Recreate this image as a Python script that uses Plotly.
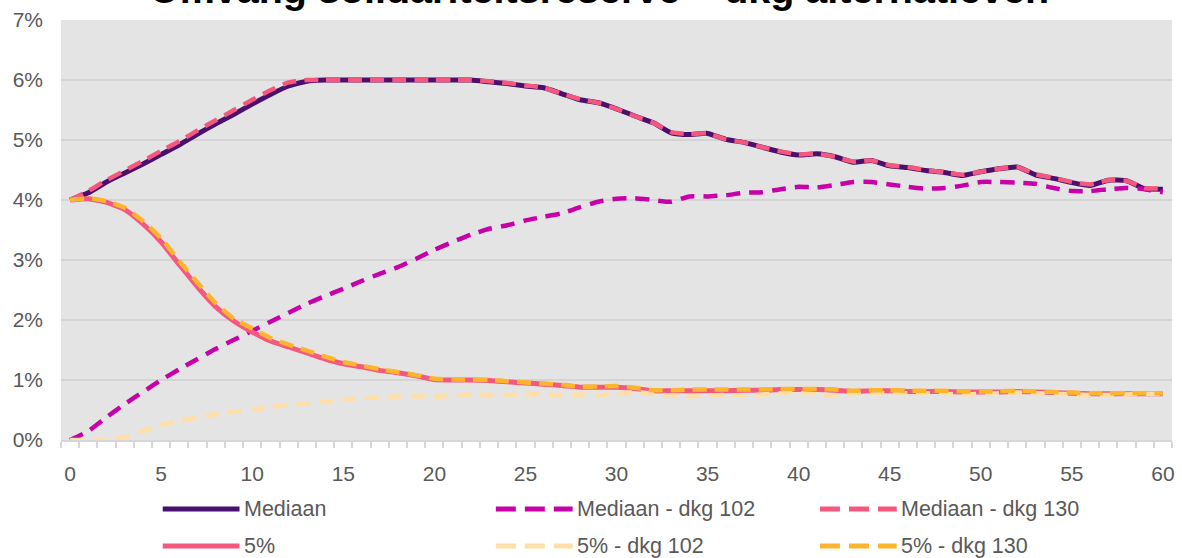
import plotly.graph_objects as go

# Jaren vanaf start (0 t/m 60)
jaren = list(range(61))
x_ticklabels = ["0", "5", "10", "15", "20", "25", "30", "35", "40", "45", "50", "55", "60"]
y_ticklabels = ["0%", "1%", "2%", "3%", "4%", "5%", "6%", "7%"]

# Omvang solidariteitsreserve (% van de pensioenvermogens)
mediaan = [
    4.00, 4.12, 4.30, 4.45, 4.60, 4.76, 4.92, 5.10, 5.27, 5.43,
    5.60, 5.76, 5.90, 5.98, 6.00, 6.00, 6.00, 6.00, 6.00, 6.00,
    6.00, 6.00, 6.00, 5.97, 5.94, 5.90, 5.87, 5.77, 5.67, 5.62,
    5.52, 5.40, 5.29, 5.12, 5.09, 5.11, 5.01, 4.96, 4.88, 4.80,
    4.75, 4.77, 4.72, 4.63, 4.66, 4.57, 4.54, 4.49, 4.46, 4.41,
    4.47, 4.52, 4.55, 4.42, 4.36, 4.29, 4.24, 4.33, 4.32, 4.19,
    4.18,
]
mediaan_dkg102 = [
    0.00, 0.15, 0.38, 0.60, 0.80, 1.00, 1.18, 1.35, 1.52, 1.67,
    1.82, 1.97, 2.12, 2.27, 2.40, 2.52, 2.65, 2.77, 2.88, 3.02,
    3.17, 3.30, 3.42, 3.52, 3.58, 3.66, 3.72, 3.78, 3.88, 3.97,
    4.02, 4.03, 4.00, 3.97, 4.06, 4.06, 4.08, 4.12, 4.13, 4.18,
    4.22, 4.21, 4.25, 4.30, 4.30, 4.26, 4.22, 4.19, 4.20, 4.24,
    4.30, 4.30, 4.29, 4.27, 4.20, 4.15, 4.15, 4.18, 4.20, 4.18,
    4.13,
]
mediaan_dkg130 = [
    4.00, 4.15, 4.33, 4.49, 4.65, 4.82, 4.98, 5.16, 5.33, 5.50,
    5.67, 5.83, 5.96, 6.00, 6.00, 6.00, 6.00, 6.00, 6.00, 6.00,
    6.00, 6.00, 6.00, 5.98, 5.95, 5.91, 5.87, 5.77, 5.68, 5.62,
    5.52, 5.40, 5.29, 5.13, 5.10, 5.11, 5.01, 4.96, 4.88, 4.81,
    4.76, 4.77, 4.72, 4.64, 4.66, 4.58, 4.55, 4.50, 4.46, 4.42,
    4.47, 4.52, 4.55, 4.43, 4.37, 4.30, 4.26, 4.33, 4.32, 4.20,
    4.19,
]
vijf_pct = [
    4.00, 4.02, 3.96, 3.84, 3.60, 3.30, 2.92, 2.55, 2.22, 1.98,
    1.80, 1.65, 1.55, 1.45, 1.35, 1.27, 1.22, 1.16, 1.12, 1.07,
    1.01, 1.00, 1.00, 0.99, 0.97, 0.95, 0.93, 0.91, 0.88, 0.88,
    0.88, 0.86, 0.82, 0.82, 0.82, 0.82, 0.82, 0.83, 0.83, 0.84,
    0.84, 0.84, 0.83, 0.81, 0.82, 0.82, 0.81, 0.81, 0.81, 0.80,
    0.80, 0.80, 0.81, 0.80, 0.79, 0.78, 0.77, 0.77, 0.77, 0.77,
    0.77,
]
vijf_pct_dkg102 = [
    0.00, 0.00, 0.00, 0.05, 0.15, 0.25, 0.32, 0.38, 0.43, 0.47,
    0.50, 0.55, 0.58, 0.61, 0.64, 0.67, 0.70, 0.71, 0.73, 0.73,
    0.72, 0.74, 0.76, 0.75, 0.75, 0.76, 0.76, 0.75, 0.76, 0.75,
    0.77, 0.80, 0.77, 0.74, 0.73, 0.74, 0.75, 0.74, 0.76, 0.78,
    0.78, 0.76, 0.74, 0.77, 0.78, 0.78, 0.78, 0.78, 0.77, 0.76,
    0.77, 0.78, 0.79, 0.78, 0.77, 0.76, 0.75, 0.75, 0.76, 0.77,
    0.77,
]
vijf_pct_dkg130 = [
    4.00, 4.03, 3.98, 3.87, 3.65, 3.36, 2.98, 2.62, 2.28, 2.02,
    1.86, 1.70, 1.59, 1.49, 1.39, 1.30, 1.24, 1.18, 1.13, 1.08,
    1.02, 1.01, 1.01, 1.00, 0.98, 0.96, 0.94, 0.92, 0.89, 0.89,
    0.90, 0.87, 0.83, 0.83, 0.84, 0.84, 0.84, 0.84, 0.84, 0.85,
    0.85, 0.85, 0.84, 0.82, 0.83, 0.83, 0.82, 0.82, 0.82, 0.81,
    0.81, 0.81, 0.82, 0.81, 0.80, 0.79, 0.78, 0.78, 0.78, 0.78,
    0.78,
]

TEKST = "#595959"
FONT = "Arial, Liberation Sans, sans-serif"

# (naam, waarden, kleur, dash, breedte) in tekenvolgorde
reeksen = [
    ("Mediaan", mediaan, "#4B0F6E", "solid", 5),
    ("Mediaan - dkg 102", mediaan_dkg102, "#C700A7", "14px,9px", 4.5),
    ("5%", vijf_pct, "#F5587E", "solid", 5),
    ("5% - dkg 102", vijf_pct_dkg102, "#FFDFA8", "14px,9px", 4.5),
    ("Mediaan - dkg 130", mediaan_dkg130, "#F5587E", "14px,8px", 4.5),
    ("5% - dkg 130", vijf_pct_dkg130, "#FDB52E", "14px,8px", 4.5),
]

fig = go.Figure()
for naam, waarden, kleur, dash, breedte in reeksen:
    fig.add_trace(go.Scatter(
        x=jaren, y=waarden, name=naam, mode="lines",
        line=dict(color=kleur, width=breedte, dash=dash, shape="spline", smoothing=0.5),
        showlegend=False,
    ))

# Legenda: drie kolommen, twee rijen
legenda_volgorde = ["Mediaan", "Mediaan - dkg 102", "Mediaan - dkg 130",
                    "5%", "5% - dkg 102", "5% - dkg 130"]
stijl = {r[0]: r for r in reeksen}
L, R, T, B = 61, 7, 20, 118
W, H = 1182, 558
pw, ph = W - L - R, H - T - B
kol_x = [163, 497, 822]
rij_y = [509, 546]
sleutel_len = 77


def px_x(p):
    return (p - L) / pw


def px_y(p):
    return (H - B - p) / ph


for i, naam in enumerate(legenda_volgorde):
    _, _, kleur, dash, breedte = stijl[naam]
    x0 = kol_x[i % 3]
    y0 = rij_y[i // 3]
    fig.add_shape(
        type="line", xref="paper", yref="paper",
        x0=px_x(x0), x1=px_x(x0 + sleutel_len), y0=px_y(y0), y1=px_y(y0),
        line=dict(color=kleur, width=5, dash="20px,9px" if dash != "solid" else "solid"),
    )
    fig.add_annotation(
        xref="paper", yref="paper", x=px_x(x0 + sleutel_len + 2), y=px_y(y0),
        text=naam, showarrow=False, xanchor="left", yanchor="middle",
        font=dict(family=FONT, size=21.5, color=TEKST),
    )

fig.update_layout(
    width=W, height=H,
    margin=dict(l=L, r=R, t=T, b=B, pad=0),
    paper_bgcolor="white",
    plot_bgcolor="#E4E4E4",
    title=dict(
        text="<b>Omvang solidariteitsreserve – dkg alternatieven</b>",
        x=599 / W, xanchor="center", xref="container",
        y=1 - 3 / H, yanchor="bottom", yref="container",
        font=dict(family=FONT, size=39.5, color="black"),
    ),
    xaxis=dict(
        range=[-0.5, 60.5],
        tickmode="array",
        tickvals=[int(t) for t in x_ticklabels],
        ticktext=x_ticklabels,
        ticks="",
        showgrid=False,
        zeroline=False,
        showline=True, linecolor="#D6D6D6", linewidth=2,
        ticklabelstandoff=14,
        tickfont=dict(family=FONT, size=21, color=TEKST),
        minor=dict(
            tickmode="linear", tick0=-0.5, dtick=1,
            ticks="outside", ticklen=6, tickwidth=1.5, tickcolor="#D6D6D6",
            showgrid=False,
        ),
    ),
    yaxis=dict(
        range=[0, 7],
        tickmode="array",
        tickvals=[int(t.rstrip("%")) for t in y_ticklabels],
        ticktext=y_ticklabels,
        ticks="",
        showgrid=True, gridcolor="#D4D4D4", gridwidth=2,
        zeroline=False,
        showline=False,
        ticklabelstandoff=17,
        tickfont=dict(family=FONT, size=21, color=TEKST),
    ),
)

fig.write_html("out.html")
